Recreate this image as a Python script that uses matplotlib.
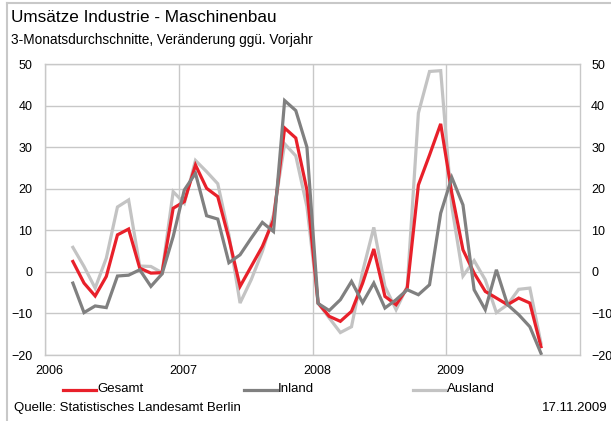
import matplotlib
matplotlib.use("Agg")
import matplotlib.pyplot as plt
import matplotlib.transforms as mtransforms
from matplotlib.lines import Line2D
import numpy as np

plt.rcParams['font.family'] = ['Liberation Sans', 'DejaVu Sans']

# Months: Mar 2006 .. Sep 2009 (3-month averages), plotted at mid-month
start_year = 2006
start_month = 3
gesamt = [2.5, -2.7, -5.8, -1.1, 8.9, 10.3, 0.9, -0.3, -0.2, 15.3, 16.9, 25.7,
          20.1, 18.1, 8.0, -3.5, 1.3, 6.1, 12.5, 34.6, 32.2, 19.7, -7.5, -10.7,
          -11.9, -9.5, -2.7, 5.5, -5.9, -7.9, -3.9, 20.9, 28.1, 35.6, 18.9, 5.3,
          -0.3, -4.7, -6.3, -7.9, -6.3, -7.5, -18.0]
inland = [-2.7, -9.8, -8.2, -8.6, -1.0, -0.8, 0.5, -3.5, -0.5, 8.5, 19.7, 23.7,
          13.5, 12.7, 2.2, 4.1, 8.1, 11.9, 9.7, 41.2, 38.8, 30.0, -7.6, -9.3,
          -6.7, -2.3, -7.4, -2.7, -8.7, -6.7, -4.3, -5.5, -3.1, 14.1, 22.7, 16.1,
          -4.3, -9.1, 0.5, -7.9, -10.3, -13.2, -19.6]
ausland = [5.9, 1.3, -3.9, 3.3, 15.6, 17.3, 1.4, 1.3, -0.2, 19.3, 16.5, 26.8,
           24.1, 21.2, 8.9, -7.5, -1.9, 4.9, 13.7, 30.8, 27.9, 15.7, -7.5, -11.1,
           -14.6, -13.2, 0.1, 10.7, -3.5, -9.1, -3.5, 38.2, 48.2, 48.4, 15.7, -1.0,
           2.7, -1.9, -9.8, -7.9, -4.2, -3.9, -17.2]
series_names = ["Gesamt", "Inland", "Ausland"]
year_labels = ["2006", "2007", "2008", "2009"]
year_ticks = [2006, 2007, 2008, 2009]
y_ticks = [-20, -10, 0, 10, 20, 30, 40, 50]

n = len(gesamt)
x = np.array([start_year + (start_month - 1 + i + 0.5) / 12 for i in range(n)])

colors = ["#e8202a", "#808080", "#c3c3c3"]
grid_c = "#c8c8c8"

fig = plt.figure(figsize=(6.11, 4.21), dpi=100)
ax = fig.add_axes([45 / 611, 1 - 355 / 421, 535 / 611, 291 / 421])

ax.plot(x, ausland, color=colors[2], lw=2.3, solid_joinstyle='miter', zorder=2)
ax.plot(x, gesamt, color=colors[0], lw=2.3, solid_joinstyle='miter', zorder=3)
ax.plot(x, inland, color=colors[1], lw=2.3, solid_joinstyle='miter', zorder=4)

ax.set_xlim(2006, 2010)
ax.set_ylim(-20, 50)
ax.set_yticks(y_ticks)
ax.set_xticks(year_ticks)
ax.set_xticklabels(year_labels)
ax.grid(True, color=grid_c, lw=1.0)
ax.set_axisbelow(True)
for s in ax.spines.values():
    s.set_color(grid_c)
    s.set_linewidth(1.0)
ax.tick_params(axis='y', length=0, labelsize=9, pad=9)
ax.tick_params(axis='x', length=0, labelsize=9, pad=7)
offset = mtransforms.ScaledTranslation(4.5 / 100, 0, fig.dpi_scale_trans)
for lab in ax.get_xticklabels():
    lab.set_transform(lab.get_transform() + offset)

ax2 = ax.twinx()
ax2.set_ylim(-20, 50)
ax2.set_yticks(y_ticks)
ax2.tick_params(axis='y', length=0, labelsize=9, pad=8)
for s in ax2.spines.values():
    s.set_visible(False)

# Titles
fig.text(11 / 611, 1 - 18 / 421, "Umsätze Industrie - Maschinenbau", fontsize=12.3,
         ha='left', va='center')
fig.text(11 / 611, 1 - 40 / 421, "3-Monatsdurchschnitte, Veränderung ggü. Vorjahr",
         fontsize=9.8, ha='left', va='center')

# Legend (manual placement)
leg_x = [63, 244, 413]
for name, lx, c in zip(series_names, leg_x, colors):
    fig.add_artist(Line2D([lx / 611, (lx + 33) / 611], [1 - 389.5 / 421] * 2,
                          color=c, lw=2.3, transform=fig.transFigure))
    fig.text((lx + 34) / 611, 1 - 389 / 421, name, fontsize=9.5, ha='left', va='center')

fig.text(14 / 611, 1 - 408 / 421, "Quelle: Statistisches Landesamt Berlin",
         fontsize=9.5, ha='left', va='center')
fig.text(608 / 611, 1 - 408 / 421, "17.11.2009", fontsize=9.5, ha='right', va='center')

# Outer frame (top and left)
fig.add_artist(Line2D([6.5 / 611, 1], [1 - 2.5 / 421] * 2, color=grid_c, lw=1.5,
                      transform=fig.transFigure))
fig.add_artist(Line2D([6.5 / 611] * 2, [0, 1 - 2.5 / 421], color=grid_c, lw=1.5,
                      transform=fig.transFigure))

fig.savefig("out.png", dpi=100)
